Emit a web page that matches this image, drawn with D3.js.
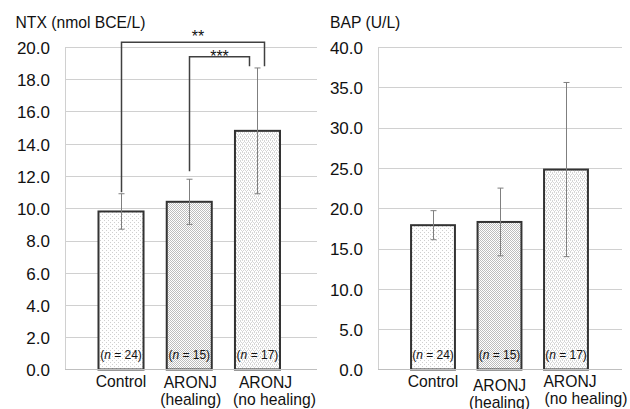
<!DOCTYPE html>
<html>
<head>
<meta charset="utf-8">
<script src="https://cdn.jsdelivr.net/npm/d3@7"></script>
<style>
  body { margin: 0; background: #fff; }
  svg { display: block; font-family: "Liberation Sans", Arial, sans-serif; }
  .grid line { stroke: #d0d0d0; stroke-width: 1; }
  .tick-label { font-size: 17px; fill: #111; }
  .title { font-size: 15.7px; fill: #111; }
  .cat { font-size: 15.7px; fill: #111; }
  .nlab { font-size: 12px; fill: #111; }
  .err { stroke: #7f7f7f; stroke-width: 1; }
  .bracket { stroke: #404040; stroke-width: 1.5; fill: none; }
  .stars { font-size: 16px; fill: #111; }
</style>
</head>
<body>
<div id="chart"></div>
<script>
// group labels (one entry per line) and sizes
const categories = [["Control"], ["ARONJ", "(healing)"], ["ARONJ", "(no healing)"]];
const groupN = [24, 15, 17];

// NTX panel
const ntxMean = [9.8, 10.4, 14.8];
const ntxSD = [1.1, 1.4, 3.9];
const ntxTicks = [0, 2, 4, 6, 8, 10, 12, 14, 16, 18, 20];
// significance brackets: groups a-b, top level, where each leg stops
const ntxSig = [
  { a: 0, b: 2, top: 20.3, endA: 11.0, endB: 18.8, label: "**" },
  { a: 1, b: 2, top: 19.4, endA: 12.3, endB: 18.8, label: "***" }
];

// BAP panel
const bapMean = [17.9, 18.3, 24.8];
const bapSD = [1.8, 4.2, 10.8];
const bapTicks = [0, 5, 10, 15, 20, 25, 30, 35, 40];

const W = 630, H = 409;
const svg = d3.select("#chart").append("svg")
  .attr("width", W).attr("height", H);

// fill patterns for the three groups
const defs = svg.append("defs");
function pattern(id, size, bg, dots, col) {
  let p = defs.append("pattern").attr("id", id)
    .attr("patternUnits", "userSpaceOnUse")
    .attr("width", size).attr("height", size);
  p.append("rect").attr("width", size).attr("height", size).attr("fill", bg);
  dots.forEach(d => p.append("rect").attr("x", d[0]).attr("y", d[1])
    .attr("width", 1).attr("height", 1).attr("fill", col));
}
pattern("pat0", 4, "#ffffff", [[0, 0], [2, 2]], "#cfcfcf");
pattern("pat1", 2, "#ffffff", [[0, 0], [1, 1]], "#bdbdbd");
pattern("pat2", 4, "#ffffff", [[0, 0], [2, 0], [1, 2], [3, 2], [0, 1], [2, 3]], "#d6d6d6");

function drawPanel(opt) {
  const g = svg.append("g");
  const y = d3.scaleLinear().domain([0, opt.max]).range([369.5, 47]);
  const x = d3.scaleBand().domain(d3.range(opt.mean.length))
    .range(opt.band).paddingInner(0.34).paddingOuter(0.17);

  // title
  g.append("text").attr("class", "title")
    .attr("x", opt.titleX).attr("y", 28).text(opt.title);

  // gridlines
  g.append("g").attr("class", "grid")
    .selectAll("line").data(opt.ticks.filter(t => t > 0)).join("line")
    .attr("x1", opt.axisX).attr("x2", opt.right)
    .attr("y1", d => Math.round(y(d)) + 0.5).attr("y2", d => Math.round(y(d)) + 0.5);

  // vertical axis line
  g.append("line").attr("x1", opt.axisX + 0.5).attr("x2", opt.axisX + 0.5)
    .attr("y1", y(opt.max)).attr("y2", y(0))
    .attr("stroke", "#d0d0d0");

  // tick labels
  g.selectAll(".tick-label").data(opt.ticks).join("text")
    .attr("class", "tick-label")
    .attr("x", opt.axisX - 15).attr("y", d => y(d))
    .attr("dy", "0.4em").attr("text-anchor", "end")
    .text(d => d.toFixed(1));

  // bars
  g.selectAll(".bar").data(opt.mean).join("rect")
    .attr("class", "bar")
    .attr("x", (d, i) => x(i)).attr("width", x.bandwidth())
    .attr("y", d => y(d)).attr("height", d => y(0) - y(d))
    .attr("fill", (d, i) => "url(#pat" + i + ")")
    .attr("stroke", "#333").attr("stroke-width", 2);

  // baseline
  g.append("line").attr("x1", opt.axisX).attr("x2", opt.right)
    .attr("y1", y(0)).attr("y2", y(0))
    .attr("stroke", "#bfbfbf").attr("stroke-width", 1.2);

  // error bars
  const eg = g.append("g").attr("class", "err");
  opt.mean.forEach((m, i) => {
    const cx = Math.round(x(i) + x.bandwidth() / 2) + 0.5;
    const hi = y(m + opt.sd[i]), lo = y(m - opt.sd[i]);
    eg.append("line").attr("x1", cx).attr("x2", cx).attr("y1", hi).attr("y2", lo);
    eg.append("line").attr("x1", cx - 3).attr("x2", cx + 3).attr("y1", hi).attr("y2", hi);
    eg.append("line").attr("x1", cx - 3).attr("x2", cx + 3).attr("y1", lo).attr("y2", lo);
  });

  // n labels
  g.selectAll(".nlab").data(groupN).join("text")
    .attr("class", "nlab")
    .attr("x", (d, i) => x(i) + x.bandwidth() / 2).attr("y", 359)
    .attr("text-anchor", "middle")
    .call(t => {
      t.append("tspan").text("(");
      t.append("tspan").attr("font-style", "italic").text("n");
      t.append("tspan").text(d => " = " + d + ")");
    });

  // category labels
  categories.forEach((lines, i) => {
    const lay = opt.catLayout[i];
    lines.forEach((s, k) => {
      g.append("text").attr("class", "cat")
        .attr("x", x(i) + x.bandwidth() / 2 + lay.dx[k])
        .attr("y", lay.y + k * 17)
        .attr("text-anchor", "middle").text(s);
    });
  });

  // significance brackets
  (opt.sig || []).forEach(s => {
    const xa = Math.round(x(s.a) + x.bandwidth() / 2) + 0.5;
    const xb = Math.round(x(s.b) + x.bandwidth() / 2 + s.dxB) + 0.5;
    g.append("path").attr("class", "bracket")
      .attr("d", "M" + xa + "," + y(s.endA) + "V" + y(s.top) + "H" + xb + "V" + y(s.endB));
    g.append("text").attr("class", "stars")
      .attr("x", (xa + xb) / 2 + s.dxL).attr("y", y(s.top) + s.dyL)
      .attr("text-anchor", "middle").text(s.label);
  });
}

ntxSig[0].dxB = 6.5; ntxSig[0].dxL = 5; ntxSig[0].dyL = 0;
ntxSig[1].dxB = -8.5; ntxSig[1].dxL = 0; ntxSig[1].dyL = 5;

drawPanel({
  title: "NTX (nmol BCE/L)", titleX: 15.5,
  mean: ntxMean, sd: ntxSD, ticks: ntxTicks, max: 20,
  axisX: 65, right: 317, band: [86.9, 291.6],
  sig: ntxSig,
  catLayout: [{ y: 387, dx: [0] }, { y: 387.5, dx: [1, 1.5] }, { y: 387.5, dx: [8, 17] }]
});

drawPanel({
  title: "BAP (U/L)", titleX: 330,
  mean: bapMean, sd: bapSD, ticks: bapTicks, max: 40,
  axisX: 378, right: 622, band: [399.75, 599.25],
  catLayout: [{ y: 387, dx: [0] }, { y: 390.5, dx: [0, 0] }, { y: 386.5, dx: [4, 20] }]
});
</script>
</body>
</html>
